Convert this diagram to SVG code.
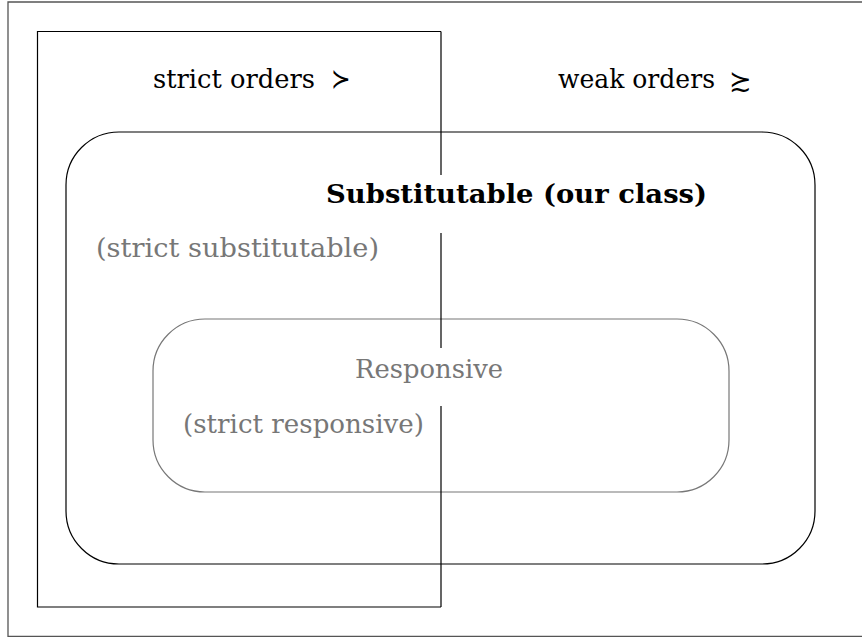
<svg xmlns="http://www.w3.org/2000/svg" width="862" height="637" viewBox="0 0 862 637">
<style>
.t{font-family:"DejaVu Serif","Liberation Serif",serif;font-size:26.5px;fill:#000}
.g{fill:#777}
.b{font-weight:bold}
.ln{fill:none;stroke:#000;stroke-width:1.2}
</style>
<rect width="862" height="637" fill="#fff"/>
<g id="frame" fill="none" stroke="#555" stroke-width="1.3">
<path d="M862,2 H8 V636.5 H862"/>
</g>
<g id="strict-orders">
<path class="ln" d="M441,31.5 H37.5 V607 H441"/>
<text class="t" x="153" y="88" textLength="162" lengthAdjust="spacingAndGlyphs">strict orders</text>
<text class="t" x="331" y="88" textLength="20" lengthAdjust="spacingAndGlyphs">≻</text>
</g>
<g id="weak-orders">
<text class="t" x="558" y="88" textLength="157" lengthAdjust="spacingAndGlyphs">weak orders</text>
<text class="t" x="729" y="90" textLength="23" lengthAdjust="spacingAndGlyphs">≿</text>
</g>
<g id="substitutable">
<rect class="ln" x="66" y="132" width="749" height="432" rx="53" ry="53"/>
<text class="t b" x="326" y="203" textLength="381" lengthAdjust="spacingAndGlyphs">Substitutable (our class)</text>
<text class="t g" x="96" y="257" textLength="283" lengthAdjust="spacingAndGlyphs">(strict substitutable)</text>
</g>
<g id="responsive">
<rect x="153" y="319" width="576" height="173" rx="52" ry="52" fill="none" stroke="#777" stroke-width="1.2"/>
<text class="t g" x="355" y="378" textLength="148" lengthAdjust="spacingAndGlyphs">Responsive</text>
<text class="t g" x="183" y="433" textLength="241" lengthAdjust="spacingAndGlyphs">(strict responsive)</text>
</g>
<g id="connectors">
<path class="ln" d="M441,31.5 V175 M441,233 V348 M441,406 V607" stroke="#333"/>
</g>
</svg>
